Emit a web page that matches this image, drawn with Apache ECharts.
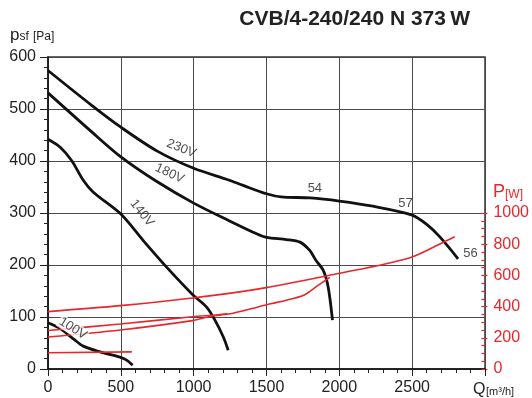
<!DOCTYPE html>
<html>
<head>
<meta charset="utf-8">
<script src="https://cdn.jsdelivr.net/npm/echarts@6/dist/echarts.min.js"></script>
<style>html,body{margin:0;padding:0;background:#fff}#c{width:532px;height:398px}</style>
</head>
<body>
<div id="c"></div>
<script>
// ---- data ----
const titleText = 'CVB/4-240/240 N 373\u2009W';
const xTicks = [0, 500, 1000, 1500, 2000, 2500, 3000];
const pTicks = [0, 100, 200, 300, 400, 500, 600];
const wTicks = [0, 200, 400, 600, 800, 1000];

// static pressure curves [Q m3/h, Pa]
const p230 = [[0,574],[300,507],[500,465],[750,419],[1000,386],[1235,364],[1340,353],[1500,337],[1600,331],[1800,329],[2000,323],[2230,313],[2500,296],[2600,278],[2690,254],[2815,212]];
const p180 = [[0,531],[300,456],[500,408],[750,360],[1000,319],[1237,286],[1432,260],[1500,253],[1637,249],[1730,244],[1797,228],[1839,209],[1889,190],[1923,158],[1953,94]];
const p140 = [[0,442],[82,427],[162,401],[242,363],[311,340],[500,298],[654,247],[814,196],[997,142],[1089,119],[1146,94],[1203,62],[1237,36]];
const p100 = [[0,89],[82,78],[174,58],[242,44],[357,33],[494,23],[540,17],[581,7]];

// power curves [Q m3/h, W]
const w230 = [[0,368],[500,406],[1000,455],[1500,520],[2000,610],[2500,712],[2720,805],[2815,848]];
const w180 = [[0,205],[500,250],[1000,310],[1130,338],[1250,352],[1454,398],[1550,420],[1637,438],[1774,475],[1866,534],[1951,587]];
const w140 = [[0,247],[500,288],[1000,335],[1180,348],[1240,356]];
const w100 = [[0,104],[580,110]];

// curve labels [Q, Pa, text, rotation]
const curveLabels = [
  [915, 424, '230V', -22],
  [835, 376, '180V', -25],
  [645, 300, '140V', -52],
  [171, 78, '100V', -32],
  [1832, 347, '54', 0],
  [2454, 318, '57', 0],
  [2900, 223, '56', 0]
];

const FONT = '"Liberation Sans", Arial, Helvetica, sans-serif';
const RED = '#e8262b';
const chart = echarts.init(document.getElementById('c'));

const black = (d) => ({type:'line', data:d, xAxisIndex:0, yAxisIndex:0, smooth:0.3, symbol:'none',
  lineStyle:{color:'#111', width:2.8}, z:3});
const red = (d) => ({type:'line', data:d, xAxisIndex:1, yAxisIndex:1, smooth:0.3, symbol:'none',
  lineStyle:{color:RED, width:1.6}, z:4});

chart.setOption({
  animation:false,
  backgroundColor:'#fff',
  grid:[
    {left:48, top:57, width:437, height:312, show:true, borderColor:'#333', borderWidth:1.5},
    {left:48, top:213, width:437, height:156, show:false}
  ],
  xAxis:[
    {type:'value', gridIndex:0, min:xTicks[0], max:xTicks[xTicks.length-1], interval:500,
     axisLine:{show:true, onZero:false, lineStyle:{color:'#111', width:1.5}},
     axisTick:{show:true, length:7, lineStyle:{color:'#222'}},
     minorTick:{show:true, splitNumber:5, length:4, lineStyle:{color:'#222'}},
     axisLabel:{fontFamily:FONT, fontSize:16, color:'#222', margin:11,
       formatter:(v)=> (v===3000 ? '' : String(v))},
     splitLine:{show:true, lineStyle:{color:'#4a4a4a', width:1}}},
    {type:'value', gridIndex:1, min:0, max:3000, show:false}
  ],
  yAxis:[
    {type:'value', gridIndex:0, min:pTicks[0], max:pTicks[pTicks.length-1], interval:100,
     axisLine:{show:true, onZero:false, lineStyle:{color:'#111', width:1.5}},
     axisTick:{show:true, length:8, lineStyle:{color:'#222'}},
     minorTick:{show:true, splitNumber:5, length:4, lineStyle:{color:'#222'}},
     axisLabel:{fontFamily:FONT, fontSize:16, color:'#222', margin:12, formatter:(v)=>String(v)},
     splitLine:{show:true, lineStyle:{color:'#4a4a4a', width:1}}},
    {type:'value', gridIndex:1, position:'right', min:wTicks[0], max:wTicks[wTicks.length-1], interval:200,
     axisLine:{show:false, onZero:false},
     axisTick:{show:true, length:6, lineStyle:{color:RED, width:1.2}},
     minorTick:{show:true, splitNumber:4, length:4, lineStyle:{color:RED, width:1.2}},
     axisLabel:{fontFamily:FONT, fontSize:16, color:RED, margin:12, formatter:(v)=>String(v)},
     splitLine:{show:false}}
  ],
  series:[
    black(p230), black(p180), black(p140), black(p100),
    red(w230), red(w180), red(w140), red(w100),
    {type:'scatter', xAxisIndex:0, yAxisIndex:0, symbolSize:1, itemStyle:{color:'rgba(0,0,0,0)'}, z:10,
     data: curveLabels.map(l => ({value:[l[0], l[1]], name:l[2],
       label:{rotate:l[3], backgroundColor: l[2]==='100V' ? '#fff' : 'transparent'}})),
     label:{show:true, position:'inside', formatter:'{b}', fontFamily:FONT, fontSize:13, color:'#222', padding:[0,1]}}
  ],
  graphic:[
    {type:'text', x:470, y:19, style:{text:titleText, font:'bold 21px '+FONT, fill:'#222', textAlign:'right', textVerticalAlign:'middle'}},
    {type:'text', x:10, y:44, style:{text:'p', font:'17px '+FONT, fill:'#222', textVerticalAlign:'bottom'}},
    {type:'text', x:19.5, y:43, style:{text:'sf', font:'12px '+FONT, fill:'#222', textVerticalAlign:'bottom'}},
    {type:'text', x:33, y:43, style:{text:'[Pa]', font:'12px '+FONT, fill:'#222', textVerticalAlign:'bottom'}},
    {type:'text', x:473, y:390, style:{text:'Q', font:'16px '+FONT, fill:'#222', textVerticalAlign:'middle'}},
    {type:'text', x:486, y:391.5, style:{text:'[m\u00b3/h]', font:'11px '+FONT, fill:'#222', textVerticalAlign:'middle'}},
    {type:'text', x:493, y:192, style:{text:'P', font:'18px '+FONT, fill:RED, textVerticalAlign:'middle'}},
    {type:'text', x:505, y:194.5, style:{text:'[W]', font:'12px '+FONT, fill:RED, textVerticalAlign:'middle'}}
  ]
});
</script>
</body>
</html>
